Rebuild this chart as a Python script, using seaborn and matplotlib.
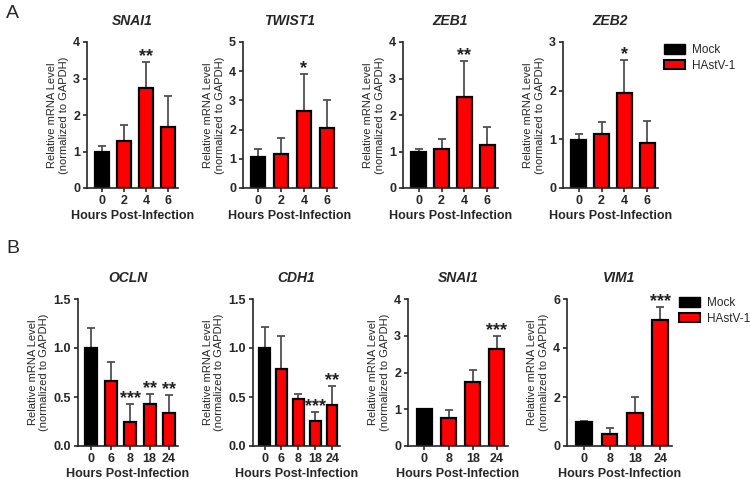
import numpy as np
import pandas as pd
import seaborn as sns
import matplotlib.pyplot as plt
from matplotlib.patches import Patch

# Panel A data (means and upper error bar ends)
hours_a = ['0', '2', '4', '6']
snai1_a = [1.0, 1.28, 2.75, 1.68]
snai1_a_top = [1.15, 1.73, 3.45, 2.53]
twist1 = [1.05, 1.15, 2.65, 2.05]
twist1_top = [1.33, 1.72, 3.9, 3.0]
zeb1 = [1.0, 1.07, 2.48, 1.17]
zeb1_top = [1.08, 1.33, 3.48, 1.67]
zeb2 = [0.98, 1.1, 1.96, 0.92]
zeb2_top = [1.1, 1.35, 2.62, 1.37]

# Panel B data
hours_b5 = ['0', '6', '8', '18', '24']
hours_b4 = ['0', '8', '18', '24']
ocln = [1.0, 0.66, 0.24, 0.43, 0.34]
ocln_top = [1.2, 0.86, 0.43, 0.53, 0.52]
cdh1 = [1.0, 0.79, 0.48, 0.26, 0.42]
cdh1_top = [1.21, 1.12, 0.53, 0.35, 0.61]
snai1_b = [1.0, 0.75, 1.75, 2.65]
snai1_b_top = [1.02, 0.99, 2.07, 3.0]
vim1 = [1.0, 0.5, 1.33, 5.13]
vim1_top = [1.01, 0.72, 1.98, 5.68]

stars_snai1_a = ['', '', '**', '']
stars_twist1 = ['', '', '*', '']
stars_zeb1 = ['', '', '**', '']
stars_zeb2 = ['', '', '*', '']
stars_ocln = ['', '', '***', '**', '**']
stars_cdh1 = ['', '', '', '***', '**']
stars_snai1_b = ['', '', '', '***']
stars_vim1 = ['', '', '', '***']

sns.set_theme(style="ticks")
plt.rcParams['font.family'] = ['Liberation Sans', 'DejaVu Sans']

W, H = 750, 479
fig = plt.figure(figsize=(7.5, 4.79), dpi=100)

def add_ax(x0, x1, ytop, ybot):
    return fig.add_axes([x0 / W, (H - ybot) / H, (x1 - x0) / W, (ybot - ytop) / H])

def panel(ax, title, hours, vals, tops, stars, ymax, yticks, fmt):
    df = pd.DataFrame({'Hours': hours, 'Level': vals})
    cols = ['black'] + ['#ff0000'] * (len(hours) - 1)
    sns.barplot(data=df, x='Hours', y='Level', hue='Hours', palette=cols,
                saturation=1, legend=False, width=0.62, edgecolor='black',
                linewidth=1.6, ax=ax, zorder=2)
    err = np.array(tops) - np.array(vals)
    ax.errorbar(range(len(hours)), vals, yerr=[np.zeros(len(err)), err],
                fmt='none', ecolor='#505050', elinewidth=1.3, capsize=3,
                capthick=1.3, zorder=1)
    for i, s in enumerate(stars):
        if s:
            ax.text(i, tops[i] - ymax * 0.02, s, ha='center', va='bottom',
                    fontsize=13, fontweight='bold', color='#222222')
    ax.set_ylim(0, ymax)
    ax.set_xlim(-0.68, len(hours) - 0.54)
    ax.set_yticks(yticks)
    ax.set_yticklabels([fmt.format(t) for t in yticks])
    sns.despine(ax=ax)
    ax.spines['left'].set_linewidth(1.2)
    ax.spines['bottom'].set_linewidth(1.2)
    ax.tick_params(axis='both', width=1.2, length=3, labelsize=9, pad=2)
    for lb in ax.get_xticklabels() + ax.get_yticklabels():
        lb.set_fontweight('bold')
    ax.set_title(title, fontsize=10, fontweight='bold', style='italic', pad=12)
    ax.set_xlabel('Hours Post-Infection', fontsize=9, fontweight='bold', labelpad=2)
    ax.set_ylabel('Relative mRNA Level\n(normalized to GAPDH)', fontsize=8, labelpad=3)

# Row A
axa = [add_ax(87, 178, 42, 188), add_ax(243, 337, 42, 188),
       add_ax(403, 498, 42, 188), add_ax(563, 658, 42, 188)]
panel(axa[0], 'SNAI1', hours_a, snai1_a, snai1_a_top, stars_snai1_a, 4, [0, 1, 2, 3, 4], '{:g}')
panel(axa[1], 'TWIST1', hours_a, twist1, twist1_top, stars_twist1, 5, [0, 1, 2, 3, 4, 5], '{:g}')
panel(axa[2], 'ZEB1', hours_a, zeb1, zeb1_top, stars_zeb1, 4, [0, 1, 2, 3, 4], '{:g}')
panel(axa[3], 'ZEB2', hours_a, zeb2, zeb2_top, stars_zeb2, 3, [0, 1, 2, 3], '{:g}')

# Row B
axb = [add_ax(78, 178, 299, 446), add_ax(253, 340, 299, 446),
       add_ax(408, 508, 299, 446), add_ax(567, 672, 299, 446)]
panel(axb[0], 'OCLN', hours_b5, ocln, ocln_top, stars_ocln, 1.5, [0, 0.5, 1.0, 1.5], '{:.1f}')
panel(axb[1], 'CDH1', hours_b5, cdh1, cdh1_top, stars_cdh1, 1.5, [0, 0.5, 1.0, 1.5], '{:.1f}')
panel(axb[2], 'SNAI1', hours_b4, snai1_b, snai1_b_top, stars_snai1_b, 4, [0, 1, 2, 3, 4], '{:g}')
panel(axb[3], 'VIM1', hours_b4, vim1, vim1_top, stars_vim1, 6, [0, 2, 4, 6], '{:g}')

handles = [Patch(facecolor='black', edgecolor='black', label='Mock'),
           Patch(facecolor='#ff0000', edgecolor='black', linewidth=1.5, label='HAstV-1')]
for (lx, ly) in [(664, 44), (679, 297)]:
    fig.legend(handles=handles, loc='upper left', bbox_to_anchor=(lx / W, 1 - ly / H),
               frameon=False, fontsize=8.5, handlelength=1.8, handleheight=0.9,
               handletextpad=0.6, labelspacing=0.3, borderaxespad=0, borderpad=0)

fig.text(6 / W, 1 - 14 / H, 'A', fontsize=14, va='center')
fig.text(6 / W, 1 - 249 / H, 'B', fontsize=14, va='center')

fig.savefig('out.png', dpi=100)
